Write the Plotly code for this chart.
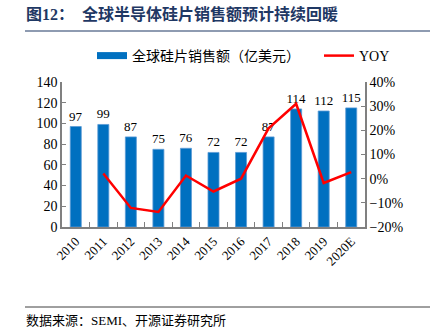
import plotly.graph_objects as go

years = ["2010", "2011", "2012", "2013", "2014", "2015", "2016", "2017", "2018", "2019", "2020E"]
sales = [97, 99, 87, 75, 76, 72, 72, 87, 114, 112, 115]
yoy_years = ["2011", "2012", "2013", "2014", "2015", "2016", "2017", "2018", "2019", "2020E"]
yoy = [2.1, -12.1, -13.8, 1.3, -5.3, 0.0, 20.8, 31.0, -1.8, 2.7]

bar_name = "全球硅片销售额（亿美元）"
line_name = "YOY"
title_text = "图12：  全球半导体硅片销售额预计持续回暖"
source_text = "数据来源：SEMI、开源证券研究所"

FONT = "Liberation Serif, 'Noto Sans CJK SC', serif"
BLUE = "#0070C0"
RED = "#FF0000"

W, H = 430, 330
L, R, T, B = 62, 65, 82, 103
pw, ph = W - L - R, H - T - B

def px(x):
    return (x - L) / pw

def py(y):
    return 1 - (y - T) / ph

fig = go.Figure()
fig.add_trace(go.Bar(
    x=years, y=sales, name=bar_name, showlegend=False,
    marker=dict(color=BLUE, line=dict(color="#5B9BD5", width=0.8)),
    width=0.4, text=[str(v) for v in sales], textposition="outside",
    constraintext="none",
    textfont=dict(family=FONT, size=13, color="#000000"), cliponaxis=False,
))
# legend swatch for bars (wide flat bar like original)
fig.add_trace(go.Scatter(
    x=[None], y=[None], mode="lines", name=bar_name + "\u3000\u00a0\u00a0",
    line=dict(color=BLUE, width=7),
))
fig.add_trace(go.Scatter(
    x=yoy_years, y=yoy, name=line_name, mode="lines", yaxis="y2",
    line=dict(color=RED, width=2.5), showlegend=True,
))

def axis_common(size=14, ticklen=4):
    return dict(
        showgrid=False, zeroline=False, showline=True, linecolor="#808080", linewidth=1.5,
        ticks="inside", ticklen=ticklen, tickcolor="#808080", tickwidth=1,
        tickfont=dict(family=FONT, size=size, color="#000000"),
    )

fig.update_layout(
    width=W, height=H, margin=dict(l=L, r=R, t=T, b=B),
    paper_bgcolor="white", plot_bgcolor="white",
    bargap=0.6,
    xaxis=dict(**axis_common(13, 5), type="category", tickangle=-45, tickson="boundaries"),
    yaxis=dict(**axis_common(), range=[0, 140], dtick=20),
    yaxis2=dict(**axis_common(), range=[-20, 40], dtick=10, ticksuffix="%",
                overlaying="y", side="right"),
    legend=dict(orientation="h", x=px(92), y=py(56), xanchor="left", yanchor="middle",
                font=dict(family=FONT, size=14, color="#000000"),
                itemwidth=30, tracegroupgap=0, bgcolor="rgba(0,0,0,0)"),
    showlegend=True,
)

fig.add_annotation(
    text="<b>" + title_text + "</b>", xref="paper", yref="paper",
    x=px(24), y=py(14), xanchor="left", yanchor="middle", showarrow=False,
    font=dict(family="Liberation Serif, 'Noto Sans CJK SC'", size=16, color="#1F3864"),
)
fig.add_annotation(
    text=source_text, xref="paper", yref="paper",
    x=px(24), y=py(320), xanchor="left", yanchor="middle", showarrow=False,
    font=dict(family=FONT, size=13, color="#000000"),
)
fig.add_shape(type="line", xref="paper", yref="paper", x0=px(25), x1=px(430),
              y0=py(31), y1=py(31), line=dict(color="#1F3864", width=1.2))
fig.add_shape(type="line", xref="paper", yref="paper", x0=px(25), x1=px(430),
              y0=py(307), y1=py(307), line=dict(color="#404040", width=1))

fig.write_html("out.html")
